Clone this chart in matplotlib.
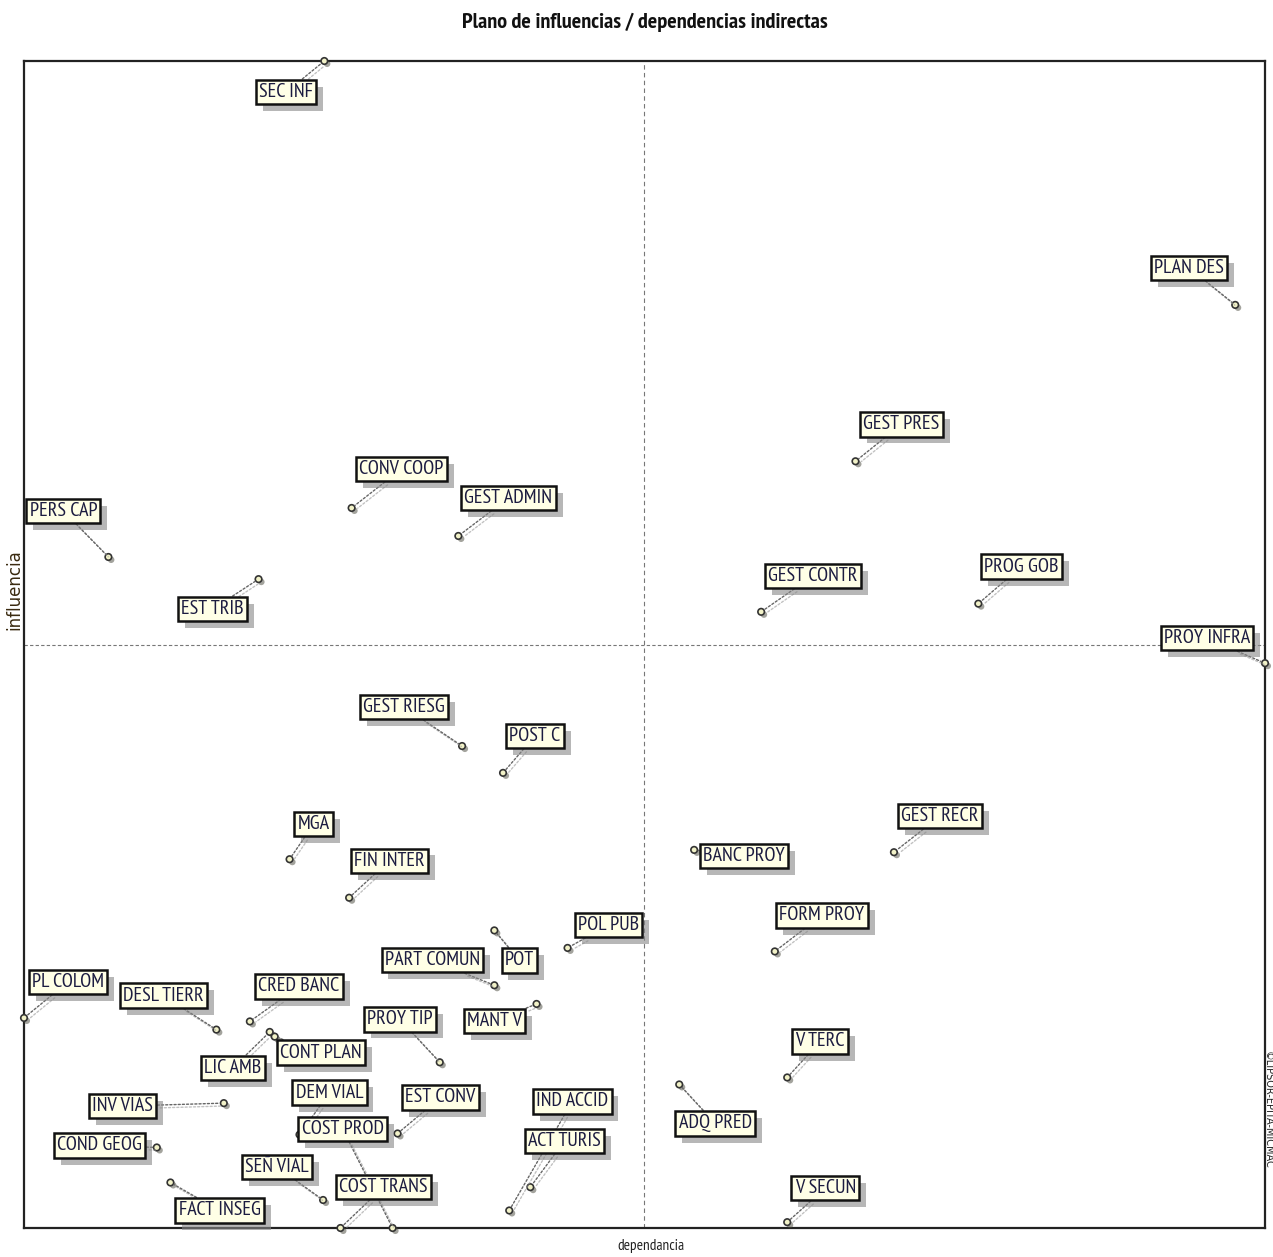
import matplotlib
matplotlib.use("Agg")
import matplotlib.pyplot as plt
import matplotlib.patheffects as pe

names = ["SEC INF", "PLAN DES", "GEST PRES", "CONV COOP", "GEST ADMIN", "PERS CAP",
         "EST TRIB", "GEST CONTR", "PROG GOB", "PROY INFRA", "GEST RIESG", "POST C",
         "MGA", "FIN INTER", "GEST RECR", "BANC PROY", "FORM PROY", "POL PUB", "POT",
         "PART COMUN", "MANT V", "PL COLOM", "DESL TIERR", "CRED BANC", "LIC AMB",
         "CONT PLAN", "INV VIAS", "COND GEOG", "FACT INSEG", "DEM VIAL", "COST PROD",
         "COST TRANS", "SEÑ VIAL", "EST CONV", "PROY TIP", "IND ACCID", "ACT TURIS",
         "ADQ PRED", "V TERC", "V SECUN"]
dependencia = [24.2, 97.6, 67.0, 26.4, 35.0, 6.8, 18.9, 59.4, 76.9, 100.0, 35.3, 38.6,
               21.4, 26.2, 70.1, 54.0, 60.5, 43.8, 37.9, 37.9, 41.3, 0.0, 15.5, 18.2,
               19.8, 20.2, 16.1, 10.7, 11.8, 22.2, 29.7, 25.5, 24.1, 30.1, 33.5, 39.1,
               40.8, 52.8, 61.5, 61.5]
influencia = [100.0, 79.1, 65.7, 61.7, 59.3, 57.5, 55.6, 52.8, 53.5, 48.4, 41.3, 39.0,
              31.6, 28.3, 32.2, 32.4, 23.7, 24.0, 25.5, 20.8, 19.2, 18.0, 17.0, 17.7,
              16.8, 16.4, 10.7, 6.9, 3.9, 8.0, 0.0, 0.0, 2.4, 8.1, 14.2, 1.5,
              3.5, 12.3, 12.9, 0.5]
# label placement offsets (pixels, y up)
label_offsets = [(-38, -31), (-46, 37), (46, 37), (50, 39), (50, 38), (-45, 46),
                 (-46, -30), (52, 36), (43, 37), (-58, 25), (-58, 39), (32, 37),
                 (24, 35), (40, 37), (46, 36), (50, -6), (47, 36), (41, 23), (25, -30),
                 (-62, 25), (-42, -17), (44, 36), (-53, 34), (49, 35), (-37, -36),
                 (46, -16), (-101, -3), (-57, 2), (49, -28), (30, 42), (-50, 99),
                 (43, 41), (-46, 33), (43, 36), (-40, 43), (63, 109), (34, 46),
                 (36, -39), (33, 36), (38, 34)]

W, H = 1273, 1257
fig = plt.figure(figsize=(W / 100, H / 100), dpi=100)
ax = fig.add_axes([24 / W, 1 - 1228 / H, (1265 - 24) / W, (1228 - 61) / H])
ax.set_xlim(0, 100)
ax.set_ylim(0, 100)
ax.set_xticks([])
ax.set_yticks([])
for s in ax.spines.values():
    s.set_linewidth(1.6)
    s.set_color("#222222")

ax.axvline(50, color="#777777", lw=0.8, ls=(0, (4, 3)), zorder=1)
ax.axhline(50, color="#777777", lw=0.8, ls=(0, (3, 2)), zorder=1)

narrow = ["Liberation Sans Narrow", "PT Sans Narrow", "DejaVu Sans"]
shadow = [pe.SimpleLineShadow(offset=(2, -2), shadow_color="#999999", alpha=0.6), pe.Normal()]

ax.scatter(dependencia, influencia, s=22, marker="o", facecolor="#f2f2c8",
           edgecolor="#333333", linewidths=1.2, zorder=5, clip_on=False,
           path_effects=[pe.SimplePatchShadow(offset=(2, -2), alpha=0.5), pe.Normal()])

for name, x, y, (dx, dy) in zip(names, dependencia, influencia, label_offsets):
    t = ax.annotate(name, xy=(x, y), xytext=(dx, dy), textcoords="offset pixels",
                    ha="center", va="center", fontsize=14.5, family=narrow,
                    color="#1c1c40", zorder=6, annotation_clip=False,
                    bbox=dict(boxstyle="square,pad=0.16", facecolor="#ffffe6",
                              edgecolor="#111111", linewidth=1.8),
                    arrowprops=dict(arrowstyle="-", color="#666666", lw=1.0,
                                    linestyle=(0, (1.5, 1.5)), shrinkA=0, shrinkB=3,
                                    path_effects=shadow))
    t.get_bbox_patch().set_path_effects(
        [pe.SimplePatchShadow(offset=(5, -5), shadow_rgbFace="#888888", alpha=0.6), pe.Normal()])

fig.text(0.5 + 8 / W, 1 - 22 / H, "Plano de influencias / dependencias indirectas",
         ha="center", va="center", fontsize=16, family=narrow, color="#111111",
         fontweight="bold")
fig.text(651 / W, 1 - 1246 / H, "dependancia", ha="center", va="center",
         fontsize=11, family=narrow, color="#222222")
fig.text(14 / W, 1 - 590 / H, "influencia", ha="center", va="center", rotation=90,
         fontsize=12, family=["DejaVu Sans"], color="#3a2a10")
fig.text(1268 / W, 1 - 1110 / H, "©LIPSOR-EPITA-MICMAC", ha="center", va="center",
         rotation=270, fontsize=7, family=["DejaVu Sans"], color="#222222")

fig.savefig("out.png", dpi=100, facecolor="white")
